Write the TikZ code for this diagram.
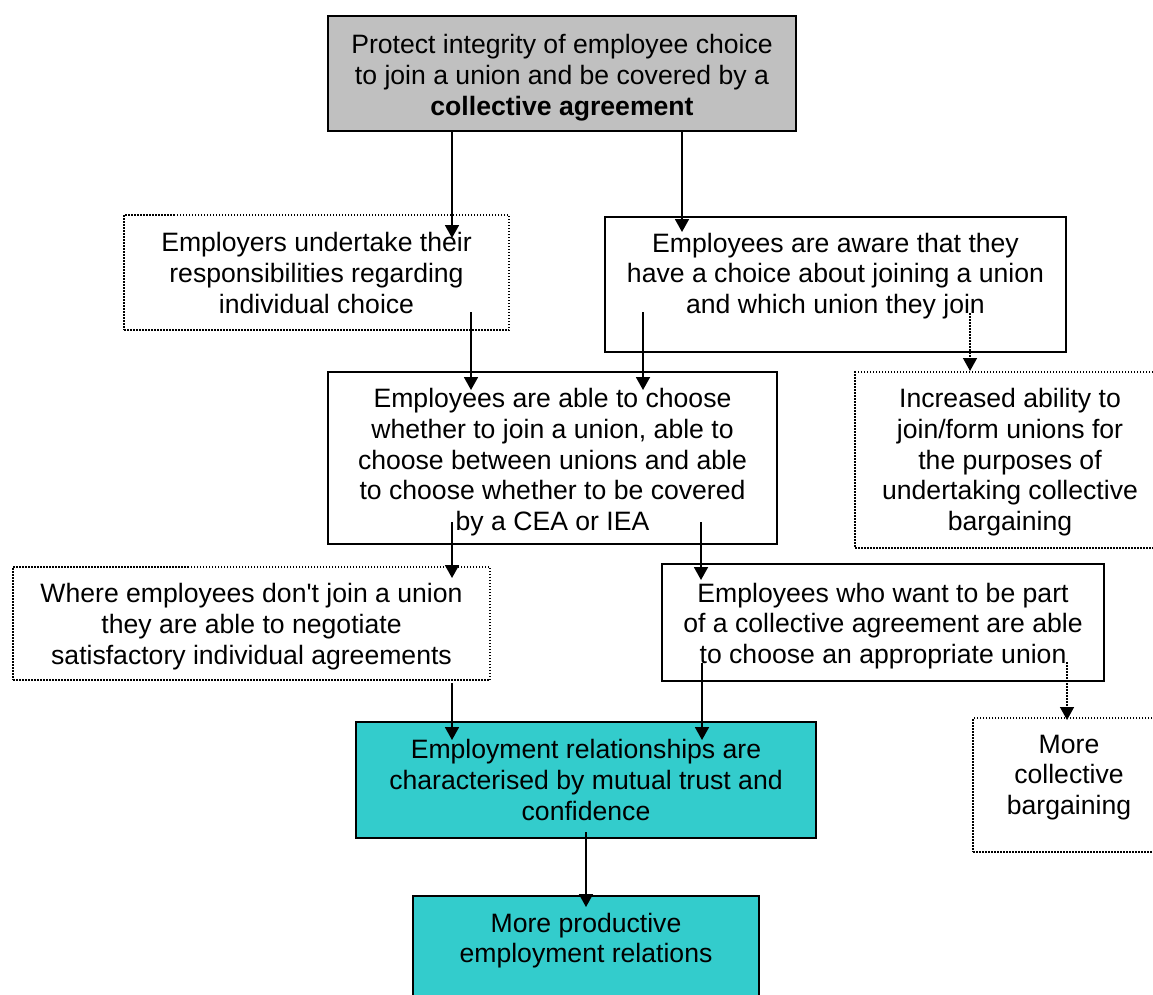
\documentclass[tikz,border=0pt]{standalone}
\usepackage{fontspec}
\setmainfont{Liberation Sans}[Ligatures=TeXOff]
\usetikzlibrary{arrows.meta}
\definecolor{boxgray}{HTML}{C0C0C0}
\definecolor{boxteal}{HTML}{33CCCC}
\tikzset{
  frame/.style={rectangle, anchor=north west, inner sep=0pt, outer sep=0pt,
    line width=1.6pt, fill=white},
  solidbox/.style={frame, draw=black},
  dotbox/.style={frame, draw=black, line width=1.5pt, dash pattern=on 1.5pt off 1.5pt},
  graybox/.style={solidbox, fill=boxgray},
  tealbox/.style={solidbox, fill=boxteal},
  txt/.style={align=center, inner sep=0pt, anchor=north,
    font=\fontsize{26.6}{30.7}\selectfont},
  arr/.style={line width=1.8pt, -{Triangle[length=13pt, width=14pt]}},
  dotarr/.style={arr, line width=1.5pt, dash pattern=on 1.5pt off 1.5pt},
}
\newcommand{\boxat}[6]{% style, name, left, top, right, bottom
  \node[#1, minimum width=#5pt-#3pt, minimum height=#6pt-#4pt] (#2) at (#3,#4) {};}
\begin{document}
\begin{tikzpicture}[x=1pt, y=-1pt]
\useasboundingbox (0,0) rectangle (1153,994);
\clip (0,0) rectangle (1153,994);

% boxes
\boxat{graybox}{goal}{328}{16}{796}{131}
\boxat{dotbox}{employers}{124}{215}{509}{330}
\boxat{solidbox}{aware}{605}{217}{1066}{352}
\boxat{solidbox}{able}{328}{372}{777}{544}
\boxat{dotbox}{ability}{855}{372}{1165}{548}
\boxat{dotbox}{individual}{13}{567}{490}{680}
\boxat{solidbox}{collective}{662}{564}{1104}{681}
\boxat{tealbox}{trust}{356}{722}{816}{838}
\boxat{dotbox}{bargaining}{973}{718}{1165}{852}
\boxat{tealbox}{productive}{413}{896}{759}{1010}

% texts
\node[txt] (tgoal) at (562,32) {\strut Protect integrity of employee choice\\
  to join a union and be covered by a\\ \textbf{collective agreement}};
\node[txt] (temployers) at (316.5,230) {\strut Employers undertake their\\
  responsibilities regarding\\ individual choice};
\node[txt] (taware) at (835.5,230.5) {\strut Employees are aware that they\\
  have a choice about joining a union\\ and which union they join};
\node[txt] (table) at (552.5,386) {\strut Employees are able to choose\\
  whether to join a union, able to\\ choose between unions and able\\
  to choose whether to be covered\\ by a CEA or IEA};
\node[txt] (tability) at (1010,386) {\strut Increased ability to\\
  join/form unions for\\ the purposes of\\ undertaking collective\\ bargaining};
\node[txt] (tindividual) at (251.5,581) {\strut Where employees don't join a union\\
  they are able to negotiate\\ satisfactory individual agreements};
\node[txt] (tcollective) at (883,580.5) {\strut Employees who want to be part\\
  of a collective agreement are able\\ to choose an appropriate union};
\node[txt] (ttrust) at (586,737) {\strut Employment relationships are\\
  characterised by mutual trust and\\ confidence};
\node[txt] (tbargaining) at (1069,731.5) {\strut More\\ collective\\ bargaining};
\node[txt] (tproductive) at (586,910.5) {\strut More productive\\ employment relations};

% connector end points
\coordinate (g1) at (452,131);  \coordinate (e1) at (452,238);
\coordinate (g2) at (682,131);  \coordinate (a2) at (682,232);
\coordinate (e3) at (471,312);  \coordinate (b3) at (471,390);
\coordinate (a4) at (643,312);  \coordinate (b4) at (643,390);
\coordinate (a5) at (970,313);  \coordinate (c5) at (970,371);
\coordinate (b6) at (452,522);  \coordinate (i6) at (452,578);
\coordinate (b7) at (701,522);  \coordinate (k7) at (701,580);
\coordinate (i8) at (452,683);  \coordinate (t8) at (452,740);
\coordinate (k9) at (702,663);  \coordinate (t9) at (702,740);
\coordinate (k10) at (1067,662); \coordinate (m10) at (1067,720);
\coordinate (t11) at (586,832); \coordinate (p11) at (586,907);

% connectors
\draw[arr] (g1) -- (e1);
\draw[arr] (g2) -- (a2);
\draw[arr] (e3) -- (b3);
\draw[arr] (a4) -- (b4);
\draw[dotarr] (a5) -- (c5);
\draw[arr] (b6) -- (i6);
\draw[arr] (b7) -- (k7);
\draw[arr] (i8) -- (t8);
\draw[arr] (k9) -- (t9);
\draw[dotarr] (k10) -- (m10);
\draw[arr] (t11) -- (p11);
\end{tikzpicture}
\end{document}
